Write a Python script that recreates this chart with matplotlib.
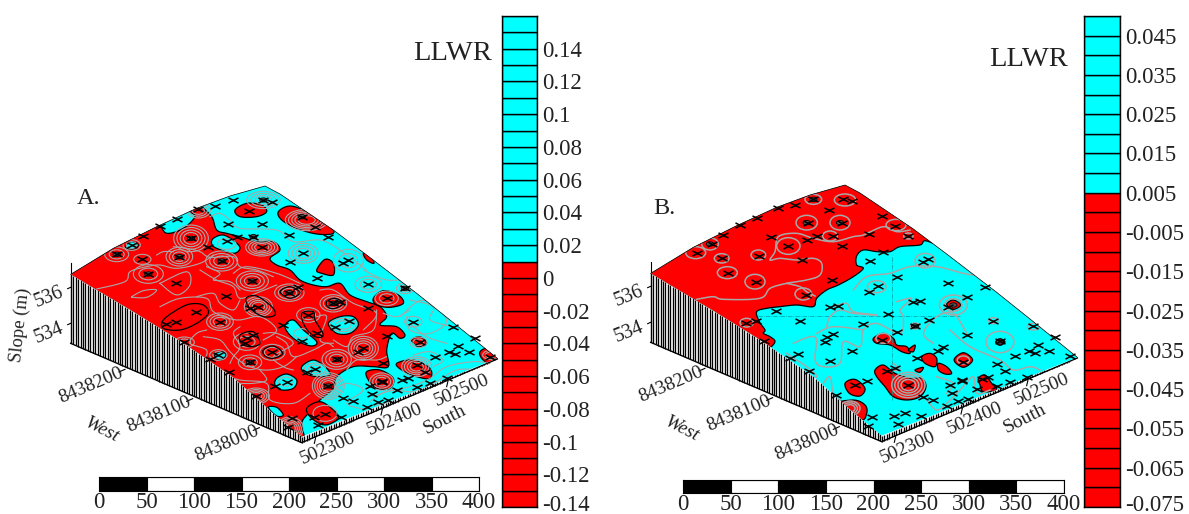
import numpy as np
import matplotlib
matplotlib.use('Agg')
import matplotlib.pyplot as plt
from matplotlib.path import Path
from matplotlib.patches import Polygon, Ellipse
from matplotlib.transforms import Affine2D, ScaledTranslation

plt.rcParams['font.family'] = ['Liberation Serif', 'DejaVu Sans']

W, H = 1189, 514
RED = '#ff0000'
CYAN = '#00ffff'
GRAY = '#a8a8a8'

# map is read off in plan units of the panel: 3 units = 1 pixel, y origin 170 px down
# surface outline
edge_left_x = [212, 400, 540, 700, 820, 905]
edge_left_y = [313, 425, 512, 622, 730, 800]
edge_top_x = [212, 340, 470, 590, 690, 795, 840, 1000, 1100, 1250, 1350, 1492]
edge_top_y = [313, 235, 170, 115, 78, 48, 72, 180, 255, 370, 450, 565]
base_x = [212, 905, 1492]
base_y = [520, 818, 567]

# sample wells, same in both panels
well_x = [700, 790, 815, 645, 595, 748, 905, 945, 530, 480, 685, 785, 430, 867, 573, 712, 760, 985,
          680, 625, 395, 785, 350, 910, 538, 427, 665, 870, 1045, 1030, 445, 950, 757, 528, 1105, 1215,
          895, 868, 678, 1160, 1000, 1020, 1105, 775, 750, 588, 925, 660, 1048, 528, 497, 1240,
          850, 1005, 1360, 1425, 1162, 950, 553, 740, 760, 735, 905, 1260, 1375, 1090, 1075, 817, 1348,
          1408, 1365, 655, 1305, 1010, 630, 750, 1470, 1250, 1275, 1150, 945, 922, 688, 860, 825,
          1145, 985, 1205, 1225, 1110, 1115, 1145, 1165, 1030, 1060, 1100, 1135, 1190, 1250, 1290,
          1340, 768, 975, 875, 943, 1022, 955, 865]
well_y = [90, 90, 97, 108, 118, 122, 140, 170, 146, 168, 163, 162, 197, 195, 205, 200, 200, 200,
          213, 232, 225, 230, 253, 250, 260, 268, 273, 275, 270, 280, 312, 325, 333, 340, 343, 355,
          350, 368, 377, 383, 400, 395, 413, 410, 415, 425, 435, 455, 452, 457, 463, 455,
          465, 470, 470, 503, 497, 490, 517, 505, 495, 518, 512, 517, 527, 535, 545, 547, 545,
          545, 553, 555, 562, 568, 567, 577, 560, 585, 605, 578, 598, 605, 605, 635, 648,
          635, 648, 630, 625, 648, 672, 632, 690, 685, 693, 710, 695, 660, 650, 640,
          625, 678, 732, 745, 742, 740, 765, 770]

# panel A regions
a_red = [(205, 305), (335, 225), (462, 165), (500, 190), (550, 175), (585, 140), (570, 125), (600, 110), (635, 140),
         (650, 180), (680, 190), (720, 200), (770, 215), (820, 215), (840, 240), (810, 265), (830, 285),
         (870, 300), (900, 330), (940, 345), (980, 350), (1020, 340), (1050, 375), (1100, 395), (1140, 410),
         (1160, 440), (1140, 465), (1190, 470), (1215, 495), (1200, 505), (1175, 490), (1160, 540), (1165, 590),
         (1120, 590), (1060, 590), (1010, 620), (1000, 655), (960, 690), (925, 730), (905, 760), (910, 815),
         (820, 745), (700, 640), (540, 525), (400, 440), (200, 320)]
a_red_islands = [
    [(705, 120), (740, 100), (785, 105), (800, 125), (770, 140), (720, 140)],
    [(835, 125), (870, 108), (920, 125), (985, 165), (1000, 190), (950, 192), (890, 175), (845, 150)],
    [(1090, 250), (1110, 255), (1122, 280), (1100, 270)],
    [(950, 300), (975, 268), (1000, 280), (1000, 315), (965, 310)],
    [(1120, 385), (1150, 362), (1195, 375), (1210, 400), (1170, 412), (1130, 405)],
    [(1235, 510), (1260, 500), (1280, 520), (1255, 530)],
    [(1190, 580), (1240, 570), (1290, 595), (1290, 625), (1250, 620), (1205, 600)],
    [(1100, 605), (1140, 600), (1180, 625), (1170, 655), (1130, 655), (1105, 630)],
    [(920, 715), (960, 695), (1000, 720), (1015, 745), (975, 765), (935, 745)],
    [(1440, 545), (1465, 535), (1495, 563), (1470, 582), (1445, 565)],
]
a_cyan_islands = [
    [(640, 205), (670, 195), (705, 215), (720, 235), (700, 250), (650, 235), (635, 222)],
    [(378, 225), (395, 215), (415, 225), (400, 237), (380, 235)],
    [(985, 460), (1020, 440), (1060, 440), (1075, 465), (1050, 490), (1010, 490)],
    [(905, 590), (940, 570), (975, 590), (990, 615), (950, 620), (915, 610)],
    [(830, 625), (860, 612), (890, 630), (880, 655), (845, 660), (825, 645)],
    [(855, 465), (880, 450), (910, 480), (950, 515), (935, 528), (895, 515), (865, 490)],
    [(645, 553), (665, 545), (678, 555), (665, 570), (650, 567)],
    [(805, 712), (830, 712), (850, 735), (830, 738)],
]
a_black_rings = [
    [(490, 450), (530, 420), (570, 402), (610, 405), (625, 430), (590, 460), (540, 480), (490, 475)],
    [(738, 385), (770, 378), (815, 410), (825, 435), (790, 440), (750, 415)],
    [(720, 495), (760, 485), (780, 520), (750, 530), (725, 520)],
    [(790, 540), (820, 528), (848, 550), (820, 565), (795, 558)],
    [(905, 430), (940, 425), (945, 450), (970, 495), (945, 500), (915, 470)],
    [(980, 395), (1005, 385), (1030, 400), (1005, 415), (985, 412)],
    [(840, 365), (870, 350), (900, 368), (870, 385)],
]
# (x, y, rx, ry, n rings)
a_bulls = [(573, 205, 52, 40, 4), (538, 260, 40, 28, 3), (445, 312, 45, 28, 2), (350, 253, 36, 22, 2),
           (395, 225, 26, 16, 2), (427, 268, 26, 15, 1), (665, 273, 48, 30, 3), (757, 333, 48, 30, 3),
           (868, 368, 44, 26, 3), (785, 232, 48, 26, 4), (910, 250, 45, 30, 3), (1045, 272, 45, 34, 2),
           (1105, 343, 40, 24, 2), (1215, 355, 26, 16, 2), (775, 410, 42, 30, 4), (1000, 400, 40, 26, 3),
           (660, 455, 40, 26, 3), (1090, 535, 45, 36, 4), (1010, 568, 44, 30, 3), (750, 577, 35, 22, 2),
           (817, 547, 38, 24, 2), (985, 648, 48, 40, 5), (1250, 590, 45, 30, 4), (1145, 635, 36, 26, 3),
           (768, 678, 40, 24, 4), (870, 775, 40, 34, 5), (740, 515, 40, 26, 2), (553, 517, 30, 16, 2),
           (655, 555, 26, 16, 2), (925, 435, 35, 22, 2), (1160, 385, 35, 22, 2), (920, 150, 64, 32, 5),
           (1255, 517, 26, 16, 2), (790, 90, 50, 26, 3), (595, 122, 36, 22, 3), (1240, 455, 26, 16, 1),
           (1470, 555, 22, 13, 2), (975, 730, 36, 24, 1), (1030, 465, 38, 20, 2), (945, 597, 32, 18, 2),
           (858, 635, 22, 14, 1), (680, 222, 28, 16, 1), (905, 490, 24, 14, 1)]
# wells with a very tight contour round them
a_core_x = [573, 538, 445, 665, 757, 350, 1010, 985, 790, 1215, 868, 1000, 750, 905, 760]
a_core_y = [205, 260, 312, 273, 333, 253, 568, 648, 90, 355, 368, 400, 577, 140, 200]
a_gray_lines = [
    [(290, 357), (375, 335), (390, 305), (440, 290), (480, 285), (530, 295), (600, 280), (640, 255)],
    [(395, 380), (430, 362), (470, 360), (440, 382), (395, 382)],
    [(480, 340), (560, 305), (570, 345), (530, 375), (480, 340)],
    [(480, 410), (540, 385), (620, 385), (640, 425), (710, 450), (780, 440), (830, 480), (790, 510)],
    [(600, 300), (650, 330), (700, 350), (720, 385), (780, 365), (830, 345)],
    [(610, 500), (660, 510), (690, 545), (730, 580), (790, 600), (850, 590), (890, 560)],
    [(660, 610), (720, 630), (800, 640), (810, 690), (880, 700), (930, 670)],
    [(700, 310), (740, 290), (830, 310), (900, 340)],
    [(1000, 510), (1040, 530), (1060, 500), (1120, 480), (1130, 420)],
    [(630, 140), (660, 130), (690, 150), (720, 175), (830, 180), (880, 215), (960, 210), (1020, 240), (1100, 300)],
    [(1200, 440), (1270, 390), (1340, 450), (1290, 490), (1230, 480), (1220, 440)],
    [(1000, 660), (1040, 640), (1090, 660), (1040, 700), (1100, 720)],
    [(1110, 695), (1150, 668), (1230, 650), (1290, 625), (1340, 590), (1420, 575), (1470, 580)],
    [(1130, 705), (1190, 690), (1260, 660), (1330, 640), (1400, 610), (1450, 590)],
    [(1120, 680), (1180, 660), (1240, 665), (1300, 640), (1370, 600), (1440, 600)],
    [(1240, 555), (1290, 545), (1330, 570), (1300, 590)],
    [(880, 600), (850, 590), (820, 560), (880, 520), (830, 490), (790, 490)],
    [(520, 230), (560, 235), (600, 245), (630, 262), (700, 260), (720, 290), (770, 300), (820, 320)],
    [(470, 255), (490, 245), (520, 245)],
    [(620, 290), (660, 310), (640, 330), (690, 335), (720, 360)],
    [(590, 380), (640, 370), (660, 400), (700, 420), (720, 390)],
    [(720, 470), (700, 490), (720, 530), (700, 560), (690, 580)],
    [(830, 500), (860, 520), (880, 560), (940, 540), (980, 520), (1000, 530)],
    [(1040, 600), (1070, 570), (1130, 570), (1160, 560)],
    [(960, 360), (1000, 360), (1060, 400), (1130, 430), (1090, 480)],
    [(780, 600), (800, 630), (760, 640), (720, 640)],
    [(620, 480), (590, 490), (570, 520), (620, 540), (610, 575)],
    [(950, 440), (980, 440), (960, 510), (1000, 520)],
    [(1230, 390), (1300, 410), (1290, 450), (1360, 470)],
    [(1090, 300), (1160, 330), (1240, 330), (1290, 370)],
    [(1150, 430), (1190, 440), (1230, 420)],
    [(1230, 460), (1280, 500), (1340, 520)],
]

# panel B regions, in the B panel's own units
b_red = [(140, 305), (270, 225), (400, 160), (520, 105), (620, 68), (735, 35), (790, 65), (950, 170), (1020, 225),
         (975, 212), (960, 225), (900, 230), (870, 245), (830, 245), (790, 240), (770, 258), (770, 285),
         (790, 295), (760, 320), (715, 345), (680, 360), (650, 385), (640, 410), (590, 405), (540, 410),
         (500, 415), (470, 425), (478, 455), (495, 480), (490, 490), (510, 500), (525, 515), (505, 535),
         (476, 525), (336, 440), (140, 322)]
b_red_islands = [
    [(820, 505), (850, 490), (880, 505), (890, 525), (920, 530), (930, 550), (905, 545), (870, 525), (830, 520)],
    [(965, 560), (990, 550), (1010, 565), (1005, 590), (975, 580)],
    [(1015, 580), (1040, 590), (1055, 610), (1035, 612), (1015, 600)],
    [(825, 600), (850, 585), (885, 610), (930, 625), (965, 625), (978, 650), (960, 680), (920, 690), (880, 680),
     (855, 650), (830, 620)],
    [(945, 600), (970, 592), (960, 607)],
    [(735, 640), (765, 628), (795, 655), (780, 678), (748, 670)],
    [(700, 705), (760, 690), (795, 705), (800, 730), (780, 750)],
    [(1135, 625), (1155, 615), (1175, 640), (1190, 660), (1150, 665), (1140, 645)],
    [(1040, 403), (1060, 390), (1082, 405), (1060, 418)],
    [(1062, 570), (1090, 548), (1118, 570), (1090, 592)],
    [(1187, 516), (1200, 506), (1215, 516), (1200, 526)],
    [(925, 540), (945, 525), (940, 545)],
]
b_bulls = [(640, 88, 25, 15, 1), (735, 90, 32, 18, 1), (620, 158, 32, 22, 1), (720, 158, 30, 22, 1),
           (690, 198, 22, 15, 1), (888, 165, 30, 17, 1), (925, 198, 14, 9, 1), (330, 222, 25, 18, 1),
           (287, 248, 30, 18, 1), (365, 265, 22, 14, 1), (475, 255, 22, 15, 1), (382, 308, 30, 18, 1),
           (465, 335, 30, 22, 1), (565, 228, 35, 25, 1), (610, 372, 25, 18, 1), (440, 458, 20, 13, 1),
           (975, 272, 30, 22, 1), (830, 350, 28, 18, 1), (925, 645, 50, 38, 4), (750, 715, 30, 22, 3),
           (1060, 405, 42, 30, 2), (1200, 516, 42, 32, 1), (1180, 452, 14, 9, 1), (1300, 470, 18, 10, 1),
           (945, 468, 14, 9, 1), (1090, 570, 18, 12, 1), (850, 505, 22, 15, 1)]
b_core_x = [640, 620, 720, 330, 1060, 1200, 945]
b_core_y = [88, 158, 158, 222, 405, 516, 468]
b_gray_lines = [
    [(290, 388), (340, 380), (370, 388), (480, 385), (510, 355), (560, 340), (620, 330), (660, 315), (665, 280),
     (640, 265), (590, 270), (540, 265), (510, 270), (525, 245), (535, 200), (590, 190), (640, 205), (700, 215),
     (760, 200), (790, 195), (850, 170), (890, 185), (930, 180)],
    [(560, 340), (600, 350), (620, 365), (645, 378)],
    [(760, 360), (800, 320), (870, 310), (930, 290), (1010, 290), (1090, 310), (1125, 315)],
    [(700, 410), (740, 400), (760, 425), (830, 435), (760, 430), (720, 420), (690, 440), (680, 470)],
    [(580, 520), (630, 500), (650, 510), (645, 570), (670, 590), (720, 580), (730, 515), (780, 530), (790, 480),
     (830, 460), (900, 490), (910, 440), (900, 420), (935, 385), (890, 395)],
    [(650, 490), (700, 470), (790, 480)],
    [(1050, 480), (1110, 530), (1200, 570), (1240, 600), (1290, 590), (1320, 600)],
    [(1100, 490), (1060, 430), (1010, 440), (970, 490), (1000, 520)],
    [(560, 550), (590, 570), (620, 590), (650, 620), (620, 625)],
    [(670, 640), (690, 620), (700, 670), (720, 690)],
    [(980, 690), (1010, 720), (1040, 700), (1090, 650), (1120, 620), (1130, 670), (1170, 660)],
    [(1010, 620), (1060, 640), (1040, 670)],
    [(880, 580), (900, 600), (870, 600)],
]
b_dash_lines = [[(475, 438), (1080, 438)], [(875, 260), (875, 690)]]

# colour bars
lev_a = np.arange(-0.14, 0.165, 0.01)
lev_b = np.arange(-0.075, 0.052, 0.005)
ticks_a = [0.14, 0.12, 0.1, 0.08, 0.06, 0.04, 0.02, 0, -0.02, -0.04, -0.06, -0.08, -0.1, -0.12, -0.14]
labels_a = ['0.14', '0.12', '0.1', '0.08', '0.06', '0.04', '0.02', '0', '-0.02', '-0.04', '-0.06', '-0.08',
            '-0.1', '-0.12', '-0.14']
ticks_b = [0.045, 0.035, 0.025, 0.015, 0.005, -0.005, -0.015, -0.025, -0.035, -0.045, -0.055, -0.065, -0.075]
labels_b = ['0.045', '0.035', '0.025', '0.015', '0.005', '-0.005', '-0.015', '-0.025', '-0.035', '-0.045',
            '-0.055', '-0.065', '-0.075']
scale_ticks = [0, 50, 100, 150, 200, 250, 300, 350, 400]


def spline(pts, closed=True, n=6):
    # catmull-rom through the points
    p = np.array(pts, float)
    if closed:
        idx = range(len(p))
        get = lambda i: p[i % len(p)]
    else:
        idx = range(len(p) - 1)
        get = lambda i: p[min(max(i, 0), len(p) - 1)]
    out = []
    for i in idx:
        p0, p1, p2, p3 = get(i - 1), get(i), get(i + 1), get(i + 2)
        for t in np.linspace(0, 1, n, endpoint=False):
            out.append(0.5*(2*p1 + (p2 - p0)*t + (2*p0 - 5*p1 + 4*p2 - p3)*t**2 + (3*p1 - p0 - 3*p2 + p3)*t**3))
    if not closed:
        out.append(p[-1])
    return np.array(out)


def px_axes(fig, x0, y0, x1, y1):
    return fig.add_axes([x0/W, 1 - y1/H, (x1 - x0)/W, (y1 - y0)/H])


def draw_frame(ax, tr, slope_label):
    # side walls first
    xs = np.arange(212, 905, 7.4)
    top = np.interp(xs, edge_left_x, edge_left_y)
    low = np.interp(xs, base_x, base_y)
    ax.vlines(xs, top, low, color='black', lw=0.95, transform=tr, zorder=2)
    xs = np.arange(905, 1492, 7.4)
    top = np.interp(xs, [905, 1492], [800, 565])
    low = np.interp(xs, base_x, base_y)
    ax.vlines(xs, top, low, color='black', lw=0.95, transform=tr, zorder=2)
    ax.plot(base_x, base_y, color='black', lw=1.0, transform=tr, zorder=3)
    # z axis
    ax.plot([212, 212], [278, 520], color='black', lw=0.8, transform=tr, zorder=3)
    for y in [352, 460]:
        ax.plot([203, 212], [y + 4, y], color='black', lw=0.8, transform=tr, zorder=3)
    for x, y in [(778, 773), (578, 686), (375, 598)]:
        ax.plot([x - 18, x], [y + 8, y], color='black', lw=0.8, transform=tr)
    for x, y in [(943, 803), (1143, 718), (1340, 633)]:
        ax.plot([x, x + 4], [y + 17, y], color='black', lw=0.8, transform=tr)
    texts = [(272, 645, '8438200'), (477, 733, '8438100'), (680, 820, '8438000'),
             (985, 835, '502300'), (1185, 748, '502400'), (1385, 660, '502500')]
    for x, y, s in texts:
        ax.text(x, y, s, fontsize=14, rotation=23, ha='center', va='center', color='#222222',
                rotation_mode='anchor', transform=tr)
    ax.text(305, 780, 'West', fontsize=14, rotation=-27, style='italic', ha='center', va='center',
            color='#222222', rotation_mode='anchor', transform=tr)
    ax.text(1335, 750, 'South', fontsize=14, rotation=27, ha='center', va='center',
            color='#222222', rotation_mode='anchor', transform=tr)
    if slope_label:
        ax.text(60, 465, 'Slope (m)', fontsize=13.5, rotation=84, ha='center', va='center',
                color='#222222', rotation_mode='anchor', transform=tr)
    ax.text(148, 383, '536', fontsize=14.5, rotation=22, ha='center', va='center', color='#222222',
            rotation_mode='anchor', transform=tr)
    ax.text(148, 490, '534', fontsize=14.5, rotation=22, ha='center', va='center', color='#222222',
            rotation_mode='anchor', transform=tr)


def scale_bar(fig, x0, y0, x1, y1):
    ax = px_axes(fig, x0, y0, x1, y1)
    ax.set_xlim(0, 400)
    ax.set_ylim(0, 1)
    for a, b in zip(scale_ticks[:-1], scale_ticks[1:]):
        ax.bar(a, 1, width=b - a, align='edge', color='black' if a % 100 == 0 else 'white', edgecolor='black', lw=0.8)
    ax.set_yticks([])
    ax.set_xticks(scale_ticks)
    ax.set_xticklabels([str(t) for t in scale_ticks], fontsize=16.5, color='#222222')
    ax.tick_params(axis='x', length=0, pad=1)
    for s in ax.spines.values():
        s.set_linewidth(0.8)


def level_bar(fig, x0, y0, x1, y1, levels, split, ticks, labels):
    ax = px_axes(fig, x0, y0, x1, y1)
    ax.set_xlim(0, 1)
    ax.set_ylim(levels[0], levels[-1])
    for a, b in zip(levels[:-1], levels[1:]):
        ax.bar(0, b - a, width=1, bottom=a, align='edge', color=CYAN if a >= split - 1e-9 else RED,
               edgecolor='black', lw=1.0)
    ax.set_xticks([])
    ax.yaxis.tick_right()
    ax.set_yticks(ticks)
    ax.set_yticklabels(labels, fontsize=16.5, color='#222222')
    ax.tick_params(axis='y', length=0, pad=4)
    # lowest label sits at the figure edge, lift it so it is not cut
    low = ax.get_yticklabels()[-1]
    low.set_transform(low.get_transform() + ScaledTranslation(0, 3/72, fig.dpi_scale_trans))
    for s in ax.spines.values():
        s.set_linewidth(1.0)


fig = plt.figure(figsize=(W/100, H/100), dpi=100)
ax = fig.add_axes([0, 0, 1, 1])
ax.set_xlim(0, W*3)
ax.set_ylim(1032, -510)
ax.axis('off')

surf = list(zip(edge_top_x, edge_top_y)) + [(905, 800)] + list(zip(edge_left_x[::-1], edge_left_y[::-1]))

tr_a = ax.transData
tr_b_common = Affine2D().translate(1740, -3) + ax.transData
tr_b_own = Affine2D().translate(1800, 0) + ax.transData

cross = Path([(-1, -0.52), (1, 0.52), (-1, 0.52), (1, -0.52)], [Path.MOVETO, Path.LINETO, Path.MOVETO, Path.LINETO])


def paint(tr_frame, tr_own, red, red_islands, cyan_islands, rings, bulls, lines, core_x, core_y, gray_lw, slope_label):
    draw_frame(ax, tr_frame, slope_label)
    ax.add_patch(Polygon(surf, closed=True, facecolor=CYAN, edgecolor='none', transform=tr_frame, zorder=4))
    clip = Polygon(surf, closed=True, transform=tr_frame)
    drawn = []
    p = Polygon(spline(red), closed=True, facecolor=RED, edgecolor='black', lw=0.9, transform=tr_own, zorder=5)
    ax.add_patch(p)
    drawn.append(p)
    for pts in red_islands:
        p = Polygon(spline(pts), closed=True, facecolor=RED, edgecolor='black', lw=0.9, transform=tr_own, zorder=6)
        ax.add_patch(p)
        drawn.append(p)
    for pts in cyan_islands:
        p = Polygon(spline(pts), closed=True, facecolor=CYAN, edgecolor='black', lw=0.9, transform=tr_own, zorder=6)
        ax.add_patch(p)
        drawn.append(p)
    for x, y, rx, ry, n in bulls:
        for k in range(n):
            f = 1 - k/n*0.75
            p = Ellipse((x, y), 2*rx*f, 2*ry*f, fill=False, edgecolor=GRAY, lw=gray_lw, transform=tr_own, zorder=7)
            ax.add_patch(p)
            drawn.append(p)
    for pts in lines:
        q = spline(pts, closed=False)
        ln, = ax.plot(q[:, 0], q[:, 1], color=GRAY, lw=gray_lw, transform=tr_own, zorder=7)
        drawn.append(ln)
    for pts in rings:
        p = Polygon(spline(pts), closed=True, fill=False, edgecolor='black', lw=0.9, transform=tr_own, zorder=8)
        ax.add_patch(p)
        drawn.append(p)
    for d in drawn:
        d.set_clip_path(clip.get_path(), clip.get_transform())
    for x, y in zip(core_x, core_y):
        ax.add_patch(Ellipse((x, y), 22, 13, fill=True, facecolor='#555555', edgecolor='black', lw=0.6,
                             transform=tr_own, zorder=8))
    ax.plot(well_x, well_y, ls='none', marker=cross, ms=7.2, mew=1.1, color='black', transform=tr_frame, zorder=9)
    ax.plot(edge_top_x, edge_top_y, color='black', lw=0.5, transform=tr_frame, zorder=8)


paint(tr_a, tr_a, a_red, a_red_islands, a_cyan_islands, a_black_rings, a_bulls, a_gray_lines,
      a_core_x, a_core_y, 0.8, True)
paint(tr_b_common, tr_b_own, b_red, b_red_islands, [], [], b_bulls, b_gray_lines,
      b_core_x, b_core_y, 1.1, False)
for pts in b_dash_lines:
    q = np.array(pts)
    ax.plot(q[:, 0], q[:, 1], color='#009a9a', lw=0.5, ls='-.', transform=tr_b_own, zorder=6)

ax.text(267, 87, 'A.', fontsize=17.5, ha='center', va='center', color='#222222')
ax.text(1800 + 192, 115, 'B.', fontsize=17.5, ha='center', va='center', color='#222222')
ax.text(453*3, (53 - 170)*3, 'LLWR', fontsize=20.5, ha='center', va='center', color='#222222')
ax.text(1029*3, (60 - 170)*3, 'LLWR', fontsize=20.5, ha='center', va='center', color='#222222')

level_bar(fig, 502, 16, 537, 507, lev_a, 0.01, ticks_a, labels_a)
level_bar(fig, 1084, 16, 1120, 507, lev_b, 0.005, ticks_b, labels_b)
scale_bar(fig, 99, 477, 479, 491)
scale_bar(fig, 683, 480, 1064, 493)

fig.savefig('out.png', dpi=100)
